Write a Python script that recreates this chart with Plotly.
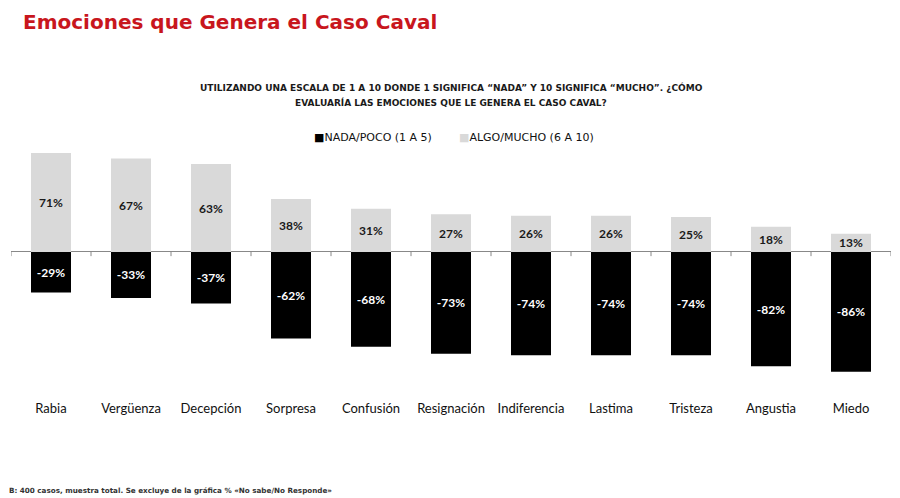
import plotly.graph_objects as go

categories = ["Rabia", "Vergüenza", "Decepción", "Sorpresa", "Confusión", "Resignación",
              "Indiferencia", "Lastima", "Tristeza", "Angustia", "Miedo"]
nada_poco = [-29, -33, -37, -62, -68, -73, -74, -74, -74, -82, -86]
algo_mucho = [71, 67, 63, 38, 31, 27, 26, 26, 25, 18, 13]
series_names = ["NADA/POCO (1 A 5)", "ALGO/MUCHO (6 A 10)"]
series_colors = ["#000000", "#D9D9D9"]

W, H = 900, 498
ML, MR, MT, MB = 11, 9, 140, 103
pw, ph = W - ML - MR, H - MT - MB

def px_x(x):
    return (x - ML) / pw

def px_y(y):
    return (H - MB - y) / ph

fig = go.Figure()
fig.add_trace(go.Bar(
    x=categories, y=nada_poco, name=series_names[0],
    marker=dict(color=series_colors[0], line=dict(width=0)),
    texttemplate="<b>%{y:.0f}%</b>", textposition="inside", insidetextanchor="middle",
    textfont=dict(family="Lato", size=12, color="white"),
))
fig.add_trace(go.Bar(
    x=categories, y=algo_mucho, name=series_names[1],
    marker=dict(color=series_colors[1], line=dict(width=0)),
    texttemplate="<b>%{y:.0f}%</b>", textposition="inside", insidetextanchor="middle",
    textfont=dict(family="Lato", size=12, color="#1a1a1a"),
))

# small tick marks on the zero line between categories
for i in range(len(categories) + 1):
    fig.add_shape(type="line", xref="x", yref="y", x0=i - 0.5, x1=i - 0.5, y0=0, y1=-3,
                  line=dict(color="#888888", width=1))

annotations = [
    dict(text="<b>Emociones que Genera el Caso Caval</b>",
         xref="paper", yref="paper", x=px_x(21), y=px_y(22), xanchor="left", yanchor="middle",
         showarrow=False, font=dict(family="DejaVu Sans", size=20, color="#C8161D")),
    dict(text="<b>UTILIZANDO UNA ESCALA DE 1 A 10 DONDE 1 SIGNIFICA “NADA” Y 10 SIGNIFICA “MUCHO”. ¿CÓMO</b>",
         xref="paper", yref="paper", x=px_x(451), y=px_y(87), xanchor="center", yanchor="middle",
         showarrow=False, font=dict(family="DejaVu Sans", size=9, color="#1a1a1a")),
    dict(text="<b>EVALUARÍA LAS EMOCIONES QUE LE GENERA EL CASO CAVAL?</b>",
         xref="paper", yref="paper", x=px_x(451), y=px_y(102), xanchor="center", yanchor="middle",
         showarrow=False, font=dict(family="DejaVu Sans", size=9, color="#1a1a1a")),
    dict(text="<b>B: 400 casos, muestra total. Se excluye de la gráfica % «No sabe/No Responde»</b>",
         xref="paper", yref="paper", x=px_x(7), y=px_y(490), xanchor="left", yanchor="middle",
         showarrow=False, font=dict(family="DejaVu Sans", size=7.2, color="#333333")),
]
# legend built as text items
legend_x = [312, 457]
for name, color, lx in zip(series_names, series_colors, legend_x):
    annotations.append(dict(
        text=f"<span style='color:{color}'>■</span>{name}",
        xref="paper", yref="paper", x=px_x(lx), y=px_y(137), xanchor="left", yanchor="middle",
        showarrow=False, font=dict(family="DejaVu Sans", size=11, color="#111111")))

fig.update_layout(
    width=W, height=H,
    margin=dict(l=ML, r=MR, t=MT, b=MB, autoexpand=False),
    paper_bgcolor="white", plot_bgcolor="white",
    barmode="relative", bargap=0.5,
    showlegend=False,
    uniformtext=dict(minsize=12, mode="show"),
    xaxis=dict(range=[-0.5, len(categories) - 0.5], showline=False, showgrid=False, ticks="",
               ticklabelstandoff=4,
               tickfont=dict(family="Lato", size=13, color="#111111")),
    yaxis=dict(range=[-102.6, 80.3], visible=True, showticklabels=False, showgrid=False,
               showline=False, ticks="", zeroline=True, zerolinecolor="#888888", zerolinewidth=1),
    annotations=annotations,
)

fig.write_html("out.html", config={"displayModeBar": False},
               post_script="document.body.style.margin='0';")
